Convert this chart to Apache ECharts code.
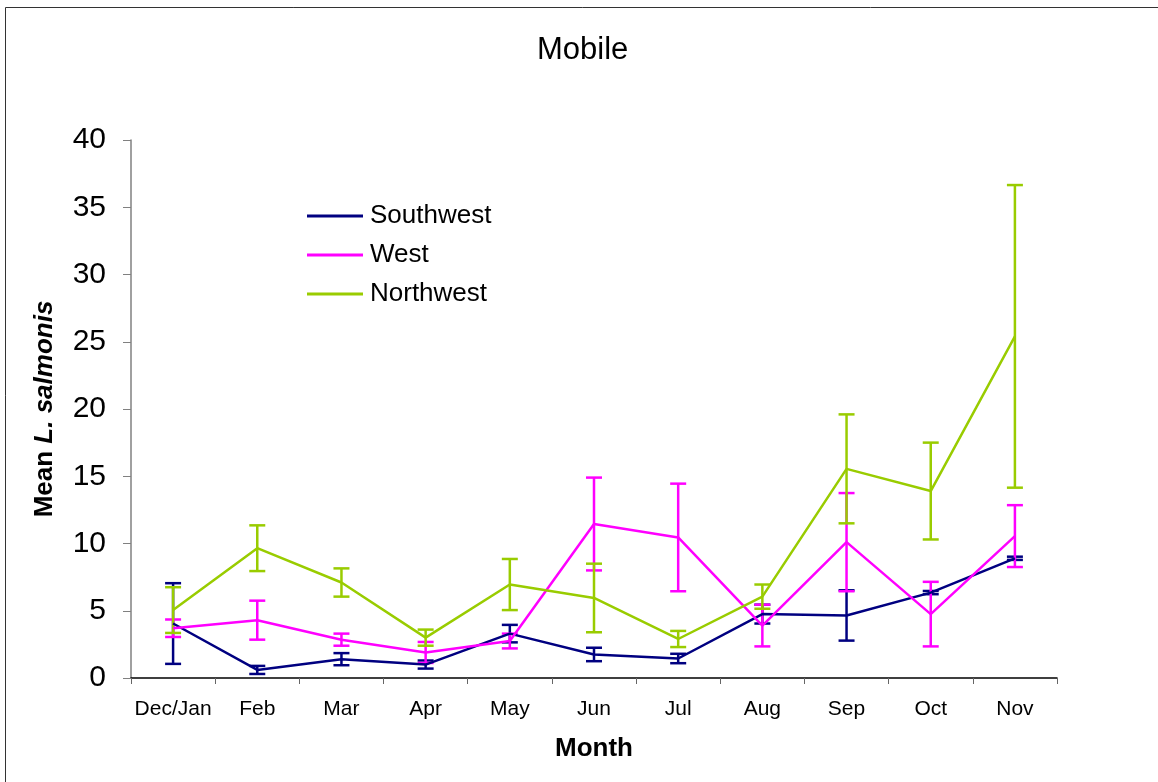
<!DOCTYPE html>
<html>
<head>
<meta charset="utf-8">
<script src="https://cdn.jsdelivr.net/npm/echarts@6/dist/echarts.min.js"></script>
<style>
  html, body { margin: 0; padding: 0; background: #fff; }
  #chart { width: 1158px; height: 782px; }
</style>
</head>
<body>
<div id="chart"></div>
<script>
// 月份
var months = ['Dec/Jan', 'Feb', 'Mar', 'Apr', 'May', 'Jun', 'Jul', 'Aug', 'Sep', 'Oct', 'Nov']

// 均值
var southwest = [4.05, 0.6, 1.4, 1.0, 3.3, 1.75, 1.45, 4.75, 4.65, 6.35, 8.9]
var west = [3.7, 4.3, 2.85, 1.9, 2.75, 11.45, 10.45, 3.9, 10.1, 4.75, 10.55]
var northwest = [5.05, 9.65, 7.1, 3.0, 6.95, 5.95, 2.9, 6.05, 15.55, 13.9, 25.4]

// 误差（±）
var southwestErr = [3.0, 0.3, 0.45, 0.3, 0.65, 0.5, 0.35, 0.7, 1.87, 0.12, 0.12]
var westErr = [0.65, 1.45, 0.45, 0.78, 0.55, 3.45, 4.0, 1.55, 3.65, 2.4, 2.3]
var northwestErr = [1.7, 1.7, 1.05, 0.6, 1.9, 2.55, 0.6, 0.9, 4.05, 3.6, 11.25]

function errData(mean, err) {
  return mean.map(function (v, i) {
    return [i, v - err[i], v + err[i]]
  })
}

// 误差线（custom series）
function errSeries(name, color, mean, err) {
  return {
    name: name + ' err',
    type: 'custom',
    silent: true,
    z: 3,
    itemStyle: {color: color},
    data: errData(mean, err),
    renderItem: function (params, api) {
      var x = api.value(0)
      var lo = api.coord([x, api.value(1)])
      var hi = api.coord([x, api.value(2)])
      var w = 8
      var style = {stroke: color, lineWidth: 2.5}
      return {
        type: 'group',
        children: [
          {type: 'line', shape: {x1: hi[0], y1: hi[1], x2: lo[0], y2: lo[1]}, style: style},
          {type: 'line', shape: {x1: hi[0] - w, y1: hi[1], x2: hi[0] + w, y2: hi[1]}, style: style},
          {type: 'line', shape: {x1: lo[0] - w, y1: lo[1], x2: lo[0] + w, y2: lo[1]}, style: style}
        ]
      }
    }
  }
}

function lineSeries(name, color, data) {
  return {
    name: name,
    type: 'line',
    data: data,
    symbol: 'none',
    z: 4,
    lineStyle: {color: color, width: 2.5},
    itemStyle: {color: color}
  }
}

var myChart = echarts.init(document.getElementById('chart'))

var option = {
  animation: false,
  backgroundColor: '#fff',
  textStyle: {fontFamily: 'Liberation Sans, Arial, sans-serif', color: '#000'},
  title: {
    text: 'Mobile',
    left: 532,
    top: 30,
    textStyle: {fontSize: 31, fontWeight: 'normal', color: '#000', fontFamily: 'Liberation Sans, Arial, sans-serif'}
  },
  legend: {
    orient: 'vertical',
    left: 302,
    top: 198,
    icon: 'rect',
    itemWidth: 56,
    itemHeight: 3,
    itemGap: 13,
    data: ['Southwest', 'West', 'Northwest'],
    textStyle: {fontSize: 26, color: '#000', lineHeight: 26, padding: [0, 0, 0, 2]}
  },
  grid: {
    left: 131,
    right: 101,
    top: 140,
    bottom: 104
  },
  graphic: [
    {
      type: 'rect',
      shape: {x: 5.5, y: 7.5, width: 1200, height: 800},
      style: {fill: 'none', stroke: '#333', lineWidth: 1},
      silent: true
    }
  ],
  xAxis: {
    type: 'category',
    data: months,
    boundaryGap: true,
    name: 'Month',
    nameLocation: 'middle',
    nameGap: 58,
    nameTextStyle: {fontSize: 26, fontWeight: 'bold', color: '#000'},
    axisLine: {lineStyle: {color: '#000', width: 1.5}},
    axisTick: {show: true, length: 6, lineStyle: {color: '#666'}},
    axisLabel: {fontSize: 21, color: '#000', margin: 21, interval: 0}
  },
  yAxis: {
    type: 'value',
    min: 0,
    max: 40,
    interval: 5,
    name: '{a|Mean }{b|L. salmonis}',
    nameLocation: 'middle',
    nameRotate: 90,
    nameGap: 73,
    nameTextStyle: {
      rich: {
        a: {fontSize: 26, fontWeight: 'bold', color: '#000'},
        b: {fontSize: 26, fontWeight: 'bold', fontStyle: 'italic', color: '#000'}
      }
    },
    axisLine: {show: true, lineStyle: {color: '#808080', width: 1.5}},
    axisTick: {show: true, length: 8, lineStyle: {color: '#808080'}},
    axisLabel: {fontSize: 30, color: '#000', margin: 25},
    splitLine: {show: false}
  },
  series: [
    errSeries('Southwest', '#000080', southwest, southwestErr),
    lineSeries('Southwest', '#000080', southwest),
    errSeries('West', '#FF00FF', west, westErr),
    lineSeries('West', '#FF00FF', west),
    errSeries('Northwest', '#99CC00', northwest, northwestErr),
    lineSeries('Northwest', '#99CC00', northwest)
  ]
}

myChart.setOption(option)
</script>
</body>
</html>
